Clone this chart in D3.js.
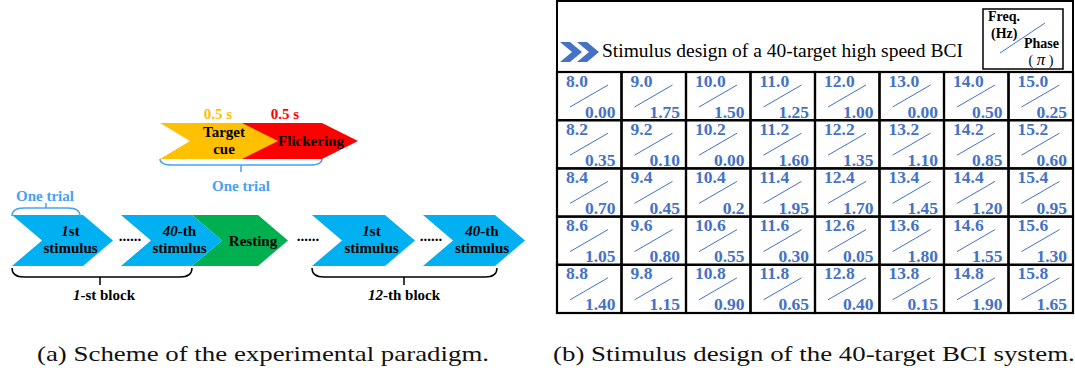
<!DOCTYPE html>
<html><head><meta charset="utf-8">
<script src="https://cdn.jsdelivr.net/npm/d3@7"></script>
<style>body{margin:0;background:#fff}svg{display:block}</style>
</head><body><svg id="fig" width="1075" height="370"></svg>
<script>
// ---- (b) stimulus table: frequency (Hz) and phase (pi) of each of the 40 targets ----
const freqRows = [
  ["8.0","9.0","10.0","11.0","12.0","13.0","14.0","15.0"],
  ["8.2","9.2","10.2","11.2","12.2","13.2","14.2","15.2"],
  ["8.4","9.4","10.4","11.4","12.4","13.4","14.4","15.4"],
  ["8.6","9.6","10.6","11.6","12.6","13.6","14.6","15.6"],
  ["8.8","9.8","10.8","11.8","12.8","13.8","14.8","15.8"]
];
const phaseRows = [
  ["0.00","1.75","1.50","1.25","1.00","0.00","0.50","0.25"],
  ["0.35","0.10","0.00","1.60","1.35","1.10","0.85","0.60"],
  ["0.70","0.45","0.2","1.95","1.70","1.45","1.20","0.95"],
  ["1.05","0.80","0.55","0.30","0.05","1.80","1.55","1.30"],
  ["1.40","1.15","0.90","0.65","0.40","0.15","1.90","1.65"]
];
const tableTitle = "Stimulus design of a 40-target high speed BCI";

// ---- (a) paradigm: one trial and the block sequence ----
const trialStages = [["Target","cue"], ["Flickering"]];
const trialDurations = ["0.5 s", "0.5 s"];
const trialColors = ["#FFC000", "#FF0000"];
const sequenceItems = [
  {ital: "1",  rest: "st",  line2: "stimulus", color: "#00B0F0"},
  {ital: "40", rest: "-th", line2: "stimulus", color: "#00B0F0"},
  {ital: "",   rest: "Resting", line2: null,   color: "#00B050"},
  {ital: "1",  rest: "st",  line2: "stimulus", color: "#00B0F0"},
  {ital: "40", rest: "-th", line2: "stimulus", color: "#00B0F0"}
];
const blockLabels = [{ital: "1", rest: "-st block"}, {ital: "12", rest: "-th block"}];
const captions = ["(a) Scheme of the experimental paradigm.", "(b) Stimulus design of the 40-target BCI system."];

const svg = d3.select("#fig");
const SERIF = "'Liberation Serif','Times New Roman',serif";
const BLUE_TXT = "#4472C4";
const LIGHT_BLUE = "#45A3F3";
const LBL = 15;

// chevron outline: rectangular body xl..xr, pointed tip, optional notch on the left
function chevron(xl, xr, top, bot, tipDepth, notchDepth) {
  const mid = (top + bot) / 2;
  const p = d3.path();
  p.moveTo(xl, top); p.lineTo(xr, top); p.lineTo(xr + tipDepth, mid);
  p.lineTo(xr, bot); p.lineTo(xl, bot); p.lineTo(xl + notchDepth, mid); p.closePath();
  return p.toString();
}
// rounded bracket: ends at y, flat part at y+dir*h, centre tick of length t
function brace(x1, x2, y, h, dir, cx, t) {
  const r = 12, yf = y + dir * h, p = d3.path();
  p.moveTo(x1, y); p.quadraticCurveTo(x1, yf, x1 + r, yf);
  p.lineTo(x2 - r, yf); p.quadraticCurveTo(x2, yf, x2, y);
  p.moveTo(cx, yf); p.lineTo(cx, yf + dir * t);
  return p.toString();
}
function mixedLabel(g, x, y, item, size, fill) {
  const t = g.append("text").attr("x", x).attr("y", y).attr("text-anchor", "middle")
    .attr("font-family", SERIF).attr("font-weight", "bold").attr("font-size", size).attr("fill", fill);
  if (item.ital) t.append("tspan").attr("font-style", "italic").text(item.ital);
  t.append("tspan").text(item.rest);
  return t;
}

// ================= panel (a) =================
const A = svg.append("g");

// one trial: cue then flickering
const trialX = d3.scaleOrdinal().domain([0, 1]).range([[160, 242], [242, 322]]);
const trialTop = 123, trialBot = 159;
[1, 0].forEach(i => {
  const [xl, xr] = trialX(i);
  A.append("path").attr("d", chevron(xl, xr, trialTop, trialBot, 36, i === 0 ? 30 : 0)).attr("fill", trialColors[i]);
});
trialStages.forEach((lines, i) => {
  const cx = i === 0 ? 224 : 311;
  A.append("text").attr("x", i === 0 ? 218 : 285).attr("y", 119).attr("text-anchor", "middle")
    .attr("font-family", SERIF).attr("font-weight", "bold").attr("font-size", LBL)
    .attr("fill", trialColors[i]).text(trialDurations[i]);
  const y0 = lines.length === 2 ? 137 : 146;
  lines.forEach((s, k) => A.append("text").attr("x", cx).attr("y", y0 + k * 17).attr("text-anchor", "middle")
    .attr("font-family", SERIF).attr("font-weight", "bold").attr("font-size", LBL).attr("fill", "#000").text(s));
});
A.append("path").attr("d", brace(160, 322, 159, 6, 1, 241, 7)).attr("fill", "none").attr("stroke", LIGHT_BLUE).attr("stroke-width", 1.5);
A.append("text").attr("x", 241).attr("y", 191).attr("text-anchor", "middle").attr("font-family", SERIF)
  .attr("font-weight", "bold").attr("font-size", LBL).attr("fill", LIGHT_BLUE).text("One trial");

// block sequence
const seqX = d3.scaleOrdinal().domain(d3.range(5)).range([[12, 83], [121, 192], [192, 258], [312, 385], [423, 495]]);
const seqTop = 215, seqBot = 266, depth = 30;
[2, 0, 1, 3, 4].forEach(i => {
  const [xl, xr] = seqX(i);
  A.append("path").attr("d", chevron(xl, xr, seqTop, seqBot, depth, depth)).attr("fill", sequenceItems[i].color);
});
sequenceItems.forEach((it, i) => {
  const [xl, xr] = seqX(i);
  const cx = (xl + depth + xr + depth) / 2 - 7;
  if (it.line2) {
    mixedLabel(A, cx, 236, it, LBL, "#000");
    A.append("text").attr("x", cx).attr("y", 253).attr("text-anchor", "middle").attr("font-family", SERIF)
      .attr("font-weight", "bold").attr("font-size", LBL).text(it.line2);
  } else {
    mixedLabel(A, cx + 5, 246, it, LBL, "#000");
  }
});
// ellipses between stimuli
[130, 308, 431].forEach(x =>
  A.append("text").attr("x", x).attr("y", 241).attr("text-anchor", "middle").attr("font-family", SERIF)
    .attr("font-weight", "bold").attr("font-size", 15).text("......"));

A.append("path").attr("d", brace(12, 80, 216, 8, -1, 46, 5)).attr("fill", "none").attr("stroke", LIGHT_BLUE).attr("stroke-width", 1.5);
A.append("text").attr("x", 45).attr("y", 201).attr("text-anchor", "middle").attr("font-family", SERIF)
  .attr("font-weight", "bold").attr("font-size", LBL).attr("fill", LIGHT_BLUE).text("One trial");

const blockSpan = [[12, 192, 100, 104], [312, 497, 404, 404]];
blockLabels.forEach((b, i) => {
  const [x1, x2, tx, lx] = blockSpan[i];
  A.append("path").attr("d", brace(x1, x2, 268, 9, 1, tx, 8)).attr("fill", "none").attr("stroke", "#000").attr("stroke-width", 1.5);
  mixedLabel(A, lx, 300, b, LBL, "#000");
});

// ================= panel (b) =================
const B = svg.append("g");
const gx = d3.scaleBand().domain(d3.range(8)).range([557, 1073]);
const gy = d3.scaleBand().domain(d3.range(5)).range([72, 313]);

B.append("rect").attr("x", 557).attr("y", 1).attr("width", 516).attr("height", 312)
  .attr("fill", "none").attr("stroke", "#000").attr("stroke-width", 2);

const cells = B.selectAll("g.cell")
  .data(freqRows.flatMap((row, r) => row.map((f, c) => ({r, c, f, p: phaseRows[r][c]}))))
  .join("g").attr("class", "cell")
  .attr("transform", d => `translate(${gx(d.c)},${gy(d.r)})`);
cells.append("rect").attr("width", gx.bandwidth()).attr("height", gy.bandwidth())
  .attr("fill", "none").attr("stroke", "#000").attr("stroke-width", 2.2);
cells.append("line").attr("x1", 13).attr("y1", 35).attr("x2", 51).attr("y2", 13)
  .attr("stroke", BLUE_TXT).attr("stroke-width", 1);
cells.append("text").attr("x", 9).attr("y", 14.5).attr("font-family", SERIF).attr("font-weight", "bold")
  .attr("font-size", 17.5).attr("fill", BLUE_TXT).text(d => d.f);
cells.append("text").attr("x", gx.bandwidth() - 6).attr("y", 45.5).attr("text-anchor", "end")
  .attr("font-family", SERIF).attr("font-weight", "bold").attr("font-size", 17.5).attr("fill", BLUE_TXT).text(d => d.p);

// title row: double chevron icon and heading
[560, 577].forEach(x => B.append("path").attr("d", chevron(x, x + 10, 42, 62, 12, 12)).attr("fill", "#4472C4"));
B.append("text").attr("x", 602).attr("y", 57).attr("font-family", SERIF).attr("font-size", 19.5).text(tableTitle);

// key box
B.append("rect").attr("x", 983).attr("y", 9).attr("width", 80).attr("height", 60)
  .attr("fill", "none").attr("stroke", "#000").attr("stroke-width", 1.5);
B.append("line").attr("x1", 1000).attr("y1", 53).attr("x2", 1045).attr("y2", 23).attr("stroke", BLUE_TXT).attr("stroke-width", 1);
const key = (x, y, s) => B.append("text").attr("x", x).attr("y", y).attr("font-family", SERIF)
  .attr("font-weight", "bold").attr("font-size", 14).text(s);
key(988, 21, "Freq.");
key(991, 38, "(Hz)");
key(1024, 48, "Phase");
const pi = B.append("text").attr("x", 1041).attr("y", 65).attr("text-anchor", "middle")
  .attr("font-family", SERIF).attr("font-size", 14);
pi.append("tspan").text("( ");
pi.append("tspan").attr("font-style", "italic").attr("font-size", 17).text("π");
pi.append("tspan").text(" )");

// ================= captions =================
const capX = [37, 553];
const capEls = captions.map((c, i) => svg.append("text").attr("x", capX[i]).attr("y", 361)
  .attr("font-family", SERIF).attr("font-size", 22).attr("fill", "#111").text(c));
const scale = 452 / capEls[0].node().getComputedTextLength();
capEls.forEach(el => el.attr("textLength", el.node().getComputedTextLength() * scale).attr("lengthAdjust", "spacingAndGlyphs"));
</script></body></html>
